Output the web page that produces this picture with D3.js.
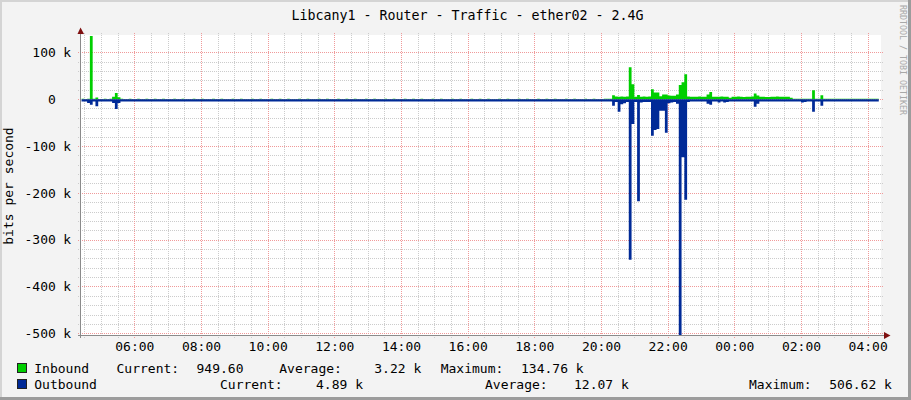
<!DOCTYPE html>
<html><head><meta charset="utf-8">
<script src="https://cdn.jsdelivr.net/npm/d3@7"></script>
<style>
html,body{margin:0;padding:0;background:#f3f3f3;}
svg{display:block;}
text{font-family:"DejaVu Sans Mono",monospace;}
</style></head><body>
<svg id="chart" width="911" height="400"></svg>
<script>
// ---------------- data ----------------
const title = "Libcany1 - Router - Traffic - ether02 - 2.4G";
const yTitle = "bits per second";
const watermark = "RRDTOOL / TOBI OETIKER";
const viewStart = new Date(2024, 0, 1, 4, 24);
const viewEnd = new Date(2024, 0, 2, 4, 24);
const firstSample = new Date(2024, 0, 1, 4, 25);
const stepMinutes = 5;
const yTickValues = [100, 0, -100, -200, -300, -400, -500];
const yTickUnits = ["k", "", "k", "k", "k", "k", "k"];
const xTickLabels = ["06:00","08:00","10:00","12:00","14:00","16:00","18:00","20:00","22:00","00:00","02:00","04:00"];
const seriesNames = ["Inbound", "Outbound"];
const seriesColors = ["#00cf00", "#002a97"];
const currentVals = ["949.60", "4.89 k"];
const averageVals = ["3.22 k", "12.07 k"];
const maximumVals = ["134.76 k", "506.62 k"];

// inbound traffic, k bits/s, one value per 5 minutes
const inbound = [
  0.6,0.5,0.6,134.76,0.6,3.6,0.5,0.5,0.6,0.5,0.6,5,13,4,0.6,0.5,0.5,0.6,0.5,0.5,0.6,0.5,0.5,0.6,
  0.5,0.5,0.6,0.5,0.5,0.6,0.5,0.5,0.5,0.6,0.5,0.5,0.6,0.5,0.5,0.5,0.6,0.5,0.5,0.6,0.5,0.5,0.5,0.6,
  0.5,0.5,0.6,0.5,0.5,0.5,0.6,0.5,0.5,0.6,0.5,0.5,0.5,0.6,0.5,0.5,0.6,0.5,0.5,0.5,0.6,0.5,0.5,0.6,
  0.5,0.5,0.6,0.5,0.5,0.5,0.6,0.5,0.5,0.6,0.5,0.5,0.5,0.6,0.5,0.5,0.6,0.5,0.5,0.5,0.6,0.5,0.5,0.6,
  0.5,0.5,0.6,0.5,0.5,0.5,0.6,0.5,0.5,0.6,0.5,0.5,0.5,0.6,0.5,0.5,0.6,0.5,0.5,0.5,0.6,0.5,0.5,0.6,
  0.5,0.5,0.6,0.5,0.5,0.5,0.6,0.5,0.5,0.6,0.5,0.5,0.5,0.6,0.5,0.5,0.6,0.5,0.5,0.5,0.6,0.5,0.5,0.6,
  0.5,0.5,0.6,0.5,0.5,0.5,0.6,0.5,0.5,0.6,0.5,0.5,0.5,0.6,0.5,0.5,0.6,0.5,0.5,0.5,0.6,0.5,0.5,0.6,
  0.5,0.5,0.6,0.5,0.5,0.5,0.6,0.5,0.5,0.6,0.5,0.5,0.5,0.6,0.5,0.5,0.6,0.5,0.5,0.5,0.6,0.7,0.8,8.5,
  5.5,5,5.5,5,5.5,68,32,5,9,5,5.5,5,5.5,21,14,14,6,10,10,8,7,7,10,30,
  36,53,5.5,5,5,5,5.5,5,5,10,15,5,5,5,5.5,5,5,3,5,5,5.5,5,4.5,5,
  5,5.5,12,8,5,5,4.5,4.5,5,5,5.5,5,5,5,5,3,1,0.9,0.8,0.9,0.8,0.9,1,19,
  0.9,1,8.5,0.9,0.8,0.9,1,0.9,0.8,0.9,1,0.9,0.8,0.9,1,0.9,0.8,0.9,1,0.9,0.8,0.9,0.9496
];
// outbound traffic, k bits/s (drawn negative)
const outbound = [
  5,5,8,12,5,15,5,5,5,5,5,8,21,8,5,5,5,5,5,5,5,5,5,5,
  5,5,5,5,5,5,5,5,5,5,5,5,5,5,5,5,5,5,5,5,5,5,5,5,
  5,5,5,5,5,5,5,5,5,5,5,5,5,5,5,5,5,5,5,5,5,5,5,5,
  5,5,5,5,5,5,5,5,5,5,5,5,5,5,5,5,5,5,5,5,5,5,5,5,
  5,5,5,5,5,5,5,5,5,5,5,5,5,5,5,5,5,5,5,5,5,5,5,5,
  5,5,5,5,5,5,5,5,5,5,5,5,5,5,5,5,5,5,5,5,5,5,5,5,
  5,5,5,5,5,5,5,5,5,5,5,5,5,5,5,5,5,5,5,5,5,5,5,5,
  5,5,5,5,5,5,5,5,5,5,5,5,5,5,5,5,5,5,5,5,5,5,5,14,
  6,27,11,9,6,343,53,6,218,7,6,6,6,78,66,64,25,25,72,9,7,6,10,506.62,
  124,215,6,5,5,5,5,5,5,10,12,5,5,7,5,7,6,5,5,5,5,5,5,5,
  5,5,16,10,5,5,5,5,5,5,5,5,5,5,5,5,5,5,5,7,6,5,5,27,
  5,5,14,5,5,5,5,5,5,5,5,5,5,5,5,5,5,5,5,5,5,5,4.89
];

// ---------------- drawing ----------------
const svg = d3.select("#chart");
const W = 911, H = 400;
const plot = {left: 81, right: 881, top: 35, bottom: 335};

svg.append("rect").attr("width", W).attr("height", H).attr("fill", "#f3f3f3");

const x = d3.scaleTime().domain([viewStart, viewEnd]).range([plot.left, plot.right]);
const y = d3.scaleLinear().domain([-500, 100]).range([333.3, 52.3]);

svg.append("rect").attr("x", plot.left).attr("y", plot.top)
  .attr("width", plot.right - plot.left).attr("height", plot.bottom - plot.top).attr("fill", "#ffffff");

// grid
const minorY = d3.range(-500, 101, 20).filter(v => v % 100 !== 0);
const majorY = yTickValues;
const minorX = d3.timeMinute.every(30).range(viewStart, viewEnd).filter(d => !(d.getMinutes() === 0 && d.getHours() % 2 === 0));
const majorX = d3.timeHour.every(2).range(viewStart, viewEnd);

const grid = svg.append("g").attr("shape-rendering", "crispEdges");
grid.selectAll(".hmin").data(minorY).enter().append("line")
  .attr("x1", plot.left - 3).attr("x2", plot.right + 2)
  .attr("y1", d => Math.round(y(d)) + 0.5).attr("y2", d => Math.round(y(d)) + 0.5)
  .attr("stroke", "#cccccc").attr("stroke-dasharray", "1,1");
grid.selectAll(".vmin").data(minorX).enter().append("line")
  .attr("y1", plot.top - 2).attr("y2", plot.bottom + 3)
  .attr("x1", d => Math.round(x(d)) + 0.5).attr("x2", d => Math.round(x(d)) + 0.5)
  .attr("stroke", "#cccccc").attr("stroke-dasharray", "1,1");
grid.selectAll(".hmaj").data(majorY).enter().append("line")
  .attr("x1", plot.left - 3).attr("x2", plot.right + 2)
  .attr("y1", d => Math.round(y(d)) + 0.5).attr("y2", d => Math.round(y(d)) + 0.5)
  .attr("stroke", "#f09a9a").attr("stroke-dasharray", "1,1");
grid.selectAll(".vmaj").data(majorX).enter().append("line")
  .attr("y1", plot.top - 2).attr("y2", plot.bottom + 3)
  .attr("x1", d => Math.round(x(d)) + 0.5).attr("x2", d => Math.round(x(d)) + 0.5)
  .attr("stroke", "#f09a9a").attr("stroke-dasharray", "1,1");

// data areas
svg.append("clipPath").attr("id", "clip").append("rect")
  .attr("x", plot.left).attr("y", plot.top)
  .attr("width", plot.right - plot.left).attr("height", plot.bottom - plot.top);

function series(vals, sign) {
  const pts = vals.map((v, i) => ({t: new Date(+firstSample + i * stepMinutes * 60000), v: sign * v}));
  pts.push({t: new Date(+firstSample + vals.length * stepMinutes * 60000), v: sign * vals[vals.length - 1]});
  return pts;
}
const area = d3.area().curve(d3.curveStepAfter)
  .x(d => x(d.t)).y0(y(0)).y1(d => y(d.v));
const g = svg.append("g").attr("clip-path", "url(#clip)");
g.append("path").datum(series(inbound, 1)).attr("d", area).attr("fill", seriesColors[0]);
g.append("path").datum(series(outbound, -1)).attr("d", area).attr("fill", seriesColors[1]);

// axes
const axisColor = "#8a8a8a", arrowColor = "#7f1010";
svg.append("line").attr("x1", 80.5).attr("x2", 80.5).attr("y1", 338).attr("y2", 31)
  .attr("stroke", axisColor).attr("shape-rendering", "crispEdges");
svg.append("line").attr("x1", 78).attr("x2", 885).attr("y1", 335.5).attr("y2", 335.5)
  .attr("stroke", axisColor).attr("shape-rendering", "crispEdges");
svg.append("path").attr("d", "M77.5,34 L84,34 L80.5,27.5 Z").attr("fill", arrowColor);
svg.append("path").attr("d", "M884,332 L884,339 L890.5,335.5 Z").attr("fill", arrowColor);

// y labels
const yl = svg.append("g").attr("font-size", "13px").attr("fill", "#000");
yTickValues.forEach((v, i) => {
  yl.append("text").attr("x", 55.8).attr("y", y(v) + 4.7).attr("text-anchor", "end").text(v);
  if (yTickUnits[i]) yl.append("text").attr("x", 63.3).attr("y", y(v) + 4.7).text(yTickUnits[i]);
});

// x labels
const xl = svg.append("g").attr("font-size", "13px").attr("fill", "#000");
majorX.forEach((d, i) => {
  xl.append("text").attr("x", x(d) + 0.5).attr("y", 350.5).attr("text-anchor", "middle").text(xTickLabels[i]);
});

// titles
svg.append("text").attr("x", 467.5).attr("y", 19.5).attr("text-anchor", "middle")
  .attr("font-size", "13.3px").attr("fill", "#000").text(title);
svg.append("text").attr("transform", "translate(12.5,186) rotate(-90)").attr("text-anchor", "middle")
  .attr("font-size", "13px").attr("fill", "#000").text(yTitle);
svg.append("text").attr("transform", "translate(899.5,60) rotate(90)").attr("text-anchor", "middle")
  .attr("font-size", "8.3px").attr("fill", "#a8a8a8").text(watermark);

// legend
const legendY = [372.5, 388.5];
const legendX = [
  {lab: 116.5, cur: 196.5, avgL: 279.3, avg: 374.3, maxL: 440.7, max: 521},
  {lab: 220, cur: 316, avgL: 485, avg: 574, maxL: 749, max: 829.3}
];
const lg = svg.append("g").attr("font-size", "13px").attr("fill", "#000");
seriesNames.forEach((name, i) => {
  const by = legendY[i], p = legendX[i];
  lg.append("rect").attr("x", 17.5).attr("y", by - 9).attr("width", 9).attr("height", 9)
    .attr("fill", seriesColors[i]).attr("stroke", "#222").attr("stroke-width", 1);
  lg.append("text").attr("x", 34.3).attr("y", by).text(name);
  lg.append("text").attr("x", p.lab).attr("y", by).text("Current:");
  lg.append("text").attr("x", p.cur).attr("y", by).text(currentVals[i]);
  lg.append("text").attr("x", p.avgL).attr("y", by).text("Average:");
  lg.append("text").attr("x", p.avg).attr("y", by).text(averageVals[i]);
  lg.append("text").attr("x", p.maxL).attr("y", by).text("Maximum:");
  lg.append("text").attr("x", p.max).attr("y", by).text(maximumVals[i]);
});

// frame
svg.append("rect").attr("x", 0).attr("y", 0).attr("width", W).attr("height", 2).attr("fill", "#d4d4d4");
svg.append("rect").attr("x", 0).attr("y", 0).attr("width", 2).attr("height", H).attr("fill", "#d4d4d4");
svg.append("rect").attr("x", 0).attr("y", H - 3).attr("width", W).attr("height", 3).attr("fill", "#9c9c9c");
svg.append("rect").attr("x", W - 3).attr("y", 0).attr("width", 3).attr("height", H).attr("fill", "#9c9c9c");
</script>
</body></html>
